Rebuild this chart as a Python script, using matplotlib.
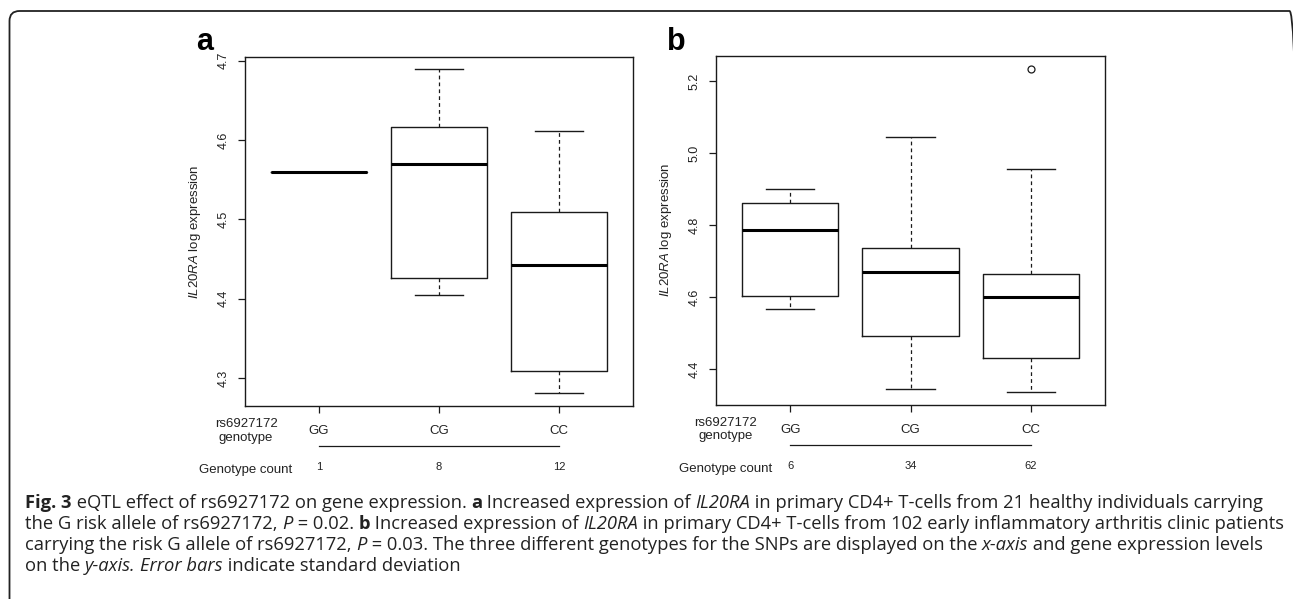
import matplotlib
matplotlib.use("Agg")
import matplotlib.pyplot as plt
from matplotlib.patches import FancyBboxPatch
from matplotlib.transforms import IdentityTransform, offset_copy
from matplotlib.lines import Line2D

plt.rcParams['font.family'] = ['Liberation Sans', 'DejaVu Sans']
plt.rcParams['mathtext.fontset'] = 'custom'
plt.rcParams['mathtext.it'] = 'Liberation Sans:italic'
plt.rcParams['mathtext.rm'] = 'Liberation Sans'

genotypes = ["GG", "CG", "CC"]

# panel a: 21 healthy individuals
a_counts = [1, 8, 12]
a_whislo = [4.560, 4.405, 4.281]
a_q1 = [4.560, 4.426, 4.309]
a_med = [4.560, 4.570, 4.442]
a_q3 = [4.560, 4.616, 4.509]
a_whishi = [4.560, 4.689, 4.611]
a_fliers = [[], [], []]
a_yticks = [4.3, 4.4, 4.5, 4.6, 4.7]

# panel b: 102 early inflammatory arthritis patients
b_counts = [6, 34, 62]
b_whislo = [4.567, 4.344, 4.337]
b_q1 = [4.603, 4.493, 4.431]
b_med = [4.785, 4.670, 4.600]
b_q3 = [4.860, 4.736, 4.664]
b_whishi = [4.901, 5.044, 4.956]
b_fliers = [[], [], [5.234]]
b_yticks = [4.4, 4.6, 4.8, 5.0, 5.2]

caption = [
    [("Fig. 3", "b"), (" eQTL effect of rs6927172 on gene expression. ", "n"), ("a", "b"),
     (" Increased expression of ", "n"), ("IL20RA", "i"),
     (" in primary CD4+ T-cells from 21 healthy individuals carrying", "n")],
    [("the G risk allele of rs6927172, ", "n"), ("P", "i"), (" = 0.02. ", "n"), ("b", "b"),
     (" Increased expression of ", "n"), ("IL20RA", "i"),
     (" in primary CD4+ T-cells from 102 early inflammatory arthritis clinic patients", "n")],
    [("carrying the risk G allele of rs6927172, ", "n"), ("P", "i"),
     (" = 0.03. The three different genotypes for the SNPs are displayed on the ", "n"),
     ("x-axis", "i"), (" and gene expression levels", "n")],
    [("on the ", "n"), ("y-axis.", "i"), (" ", "n"), ("Error bars", "i"),
     (" indicate standard deviation", "n")],
]

W, H = 1293, 599
fig = plt.figure(figsize=(W / 100, H / 100), dpi=100)
ink = '#1a1a1a'


def panel(rect, letter, whislo, q1, med, q3, whishi, fliers, counts, yticks, ylim, dx_lab):
    l, t, r, b = rect
    ax = fig.add_axes([l / W, 1 - b / H, (r - l) / W, (b - t) / H])
    stats = []
    for i in range(3):
        stats.append(dict(whislo=whislo[i], q1=q1[i], med=med[i], q3=q3[i],
                          whishi=whishi[i], fliers=fliers[i]))
    ax.bxp(stats, positions=[1, 2, 3], widths=0.8, capwidths=0.4,
           boxprops=dict(color=ink, lw=1.0),
           medianprops=dict(color='black', lw=2.2, solid_capstyle='butt'),
           whiskerprops=dict(color=ink, lw=0.9, linestyle=(0, (3, 2.5))),
           capprops=dict(color=ink, lw=1.0),
           flierprops=dict(marker='o', markerfacecolor='none', markeredgecolor=ink,
                           markersize=5, markeredgewidth=0.9))
    ax.set_xlim(0.383, 3.617)
    ax.set_ylim(*ylim)
    ax.set_yticks(yticks)
    ax.set_yticklabels(["%.1f" % v for v in yticks])
    ax.set_xticks([1, 2, 3])
    ax.set_xticklabels([])
    ax.tick_params(axis='both', length=5, width=0.9, color=ink)
    ax.tick_params(axis='y', labelsize=9, labelrotation=90, pad=6, labelcolor='#222')
    for lab in ax.get_yticklabels():
        lab.set_va('center')
    for s in ax.spines.values():
        s.set_linewidth(1.0)
        s.set_color(ink)
    ax.set_ylabel(r"$\it{IL20RA}$ log expression", fontsize=9.5, color='#222')
    ax.yaxis.set_label_coords(-42 / (r - l), 0.5)

    xt = ax.get_xaxis_transform()
    for i, g in enumerate(genotypes):
        ax.text(i + 1, 0, g, fontsize=9.5, ha='center', va='center', color='#222',
                transform=offset_copy(xt, fig=fig, y=-25, units='dots'))
        ax.text(i + 1, 0, str(counts[i]), fontsize=8, ha='center', va='center', color='#222',
                transform=offset_copy(xt, fig=fig, y=-61, units='dots'))
    ax.text(1, 0, "rs6927172\ngenotype", fontsize=9.5, ha='center', va='center',
            linespacing=1.15, color='#222',
            transform=offset_copy(xt, fig=fig, x=dx_lab, y=-25, units='dots'))
    ax.text(1, 0, "Genotype count", fontsize=9.5, ha='center', va='center', color='#222',
            transform=offset_copy(xt, fig=fig, x=dx_lab, y=-64, units='dots'))
    ax.add_line(Line2D([1, 3], [0, 0], color=ink, lw=0.9, clip_on=False,
                       transform=offset_copy(xt, fig=fig, y=-40, units='dots')))
    fig.text((l - 40) / W, 1 - 42 / H, letter, fontsize=22, fontweight='bold',
             ha='center', va='center')
    return ax


panel((245, 57, 633, 406), "a", a_whislo, a_q1, a_med, a_q3, a_whishi, a_fliers,
      a_counts, a_yticks, (4.2647, 4.7047), -73)
panel((716, 55.7, 1105, 404.7), "b", b_whislo, b_q1, b_med, b_q3, b_whishi, b_fliers,
      b_counts, b_yticks, (4.301, 5.270), -65)

# rounded frame around the figure (bottom and right run off the edge)
frame = FancyBboxPatch((9.5, -12), 1290, H - 11 + 12, boxstyle="round,pad=0,rounding_size=10",
                       transform=IdentityTransform(), facecolor='none', edgecolor='#222',
                       lw=1.3)
fig.add_artist(frame)

# caption with mixed bold / italic runs
renderer = fig.canvas.get_renderer()
styles = {"n": dict(), "b": dict(fontweight='bold'), "i": dict(fontstyle='italic')}
y0 = 508
for row, runs in enumerate(caption):
    x = 25
    y = H - (y0 + row * 21)
    for txt, st in runs:
        t = fig.text(x, y, txt, fontsize=13.2, family='Open Sans', color='#222',
                     ha='left', va='baseline', transform=IdentityTransform(), **styles[st])
        x = t.get_window_extent(renderer).x1

fig.savefig("out.png", dpi=100)
